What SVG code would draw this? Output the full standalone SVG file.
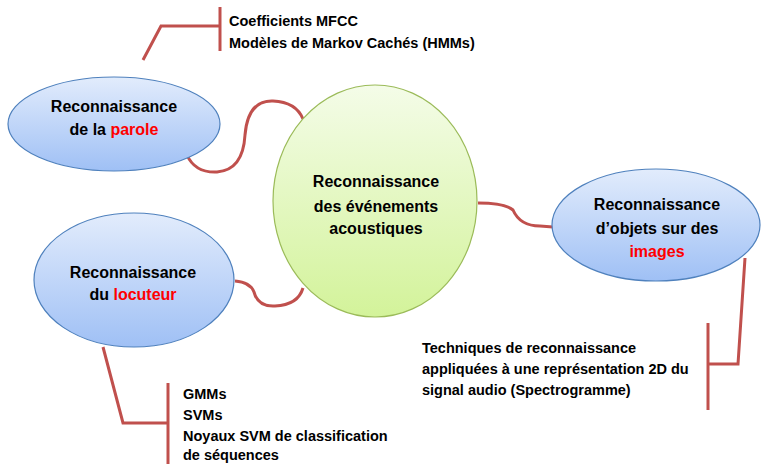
<svg xmlns="http://www.w3.org/2000/svg" width="762" height="464" viewBox="0 0 762 464">
<defs>
<linearGradient id="gBlue" x1="0" y1="0" x2="0" y2="1">
<stop offset="0" stop-color="#e2ecfc"/>
<stop offset="1" stop-color="#9fc0f5"/>
</linearGradient>
<linearGradient id="gGreen" x1="0" y1="0" x2="0" y2="1">
<stop offset="0" stop-color="#f4fce8"/>
<stop offset="1" stop-color="#d3f39a"/>
</linearGradient>
</defs>
<style>
.blue{fill:url(#gBlue);stroke:#4f81bd;stroke-width:1.2}
.green{fill:url(#gGreen);stroke:#9bbb59;stroke-width:1.2}
.lbl{font-family:"Liberation Sans",Arial,sans-serif;font-weight:bold;font-size:16px;fill:#000;text-anchor:middle}
.red{fill:#ff0000}
.note{font-family:"Liberation Sans",Arial,sans-serif;font-weight:bold;font-size:14.5px;fill:#000}
.conn path{fill:none;stroke:#c0504d;stroke-width:3;stroke-linejoin:miter}
</style>
<rect width="762" height="464" fill="#fff"/>
<g id="connectors" class="conn">
<path d="M143,60 L161,26 L220,26"/>
<path d="M220,7 L220,51"/>
<path d="M187,155 Q195,173 217,172 Q243,170 245,135 Q248,100 273,101 Q296,102 303,119"/>
<path d="M235,281 Q250,282 254,292 Q258,307 275,306 Q298,305 303,288"/>
<path d="M478,203 Q505,203 513,210 Q520,226 540,226 L553,227"/>
<path d="M745,258 L738,364 L708,364"/>
<path d="M708,323 L708,410"/>
<path d="M103,347 L123,423 L168,423"/>
<path d="M168,383 L168,464"/>
</g>
<g id="node-parole">
<ellipse class="blue" cx="114" cy="124" rx="106" ry="47"/>
<text class="lbl" x="114" y="112">Reconnaissance</text>
<text class="lbl" x="114" y="135">de la <tspan class="red">parole</tspan></text>
</g>
<g id="node-centre">
<ellipse class="green" cx="375" cy="201" rx="102" ry="116"/>
<text class="lbl" x="376" y="187">Reconnaissance</text>
<text class="lbl" x="376" y="212">des événements</text>
<text class="lbl" x="376" y="234">acoustiques</text>
</g>
<g id="node-locuteur">
<ellipse class="blue" cx="134" cy="280" rx="100" ry="67"/>
<text class="lbl" x="133" y="278">Reconnaissance</text>
<text class="lbl" x="133" y="300">du <tspan class="red">locuteur</tspan></text>
</g>
<g id="node-images">
<ellipse class="blue" cx="656" cy="225" rx="104" ry="56"/>
<text class="lbl" x="657" y="210">Reconnaissance</text>
<text class="lbl" x="657" y="234">d’objets sur des</text>
<text class="lbl" x="657" y="257"><tspan class="red">images</tspan></text>
</g>
<g id="note-parole">
<text class="note" x="229" y="26">Coefficients MFCC</text>
<text class="note" x="229" y="48">Modèles de Markov Cachés (HMMs)</text>
</g>
<g id="note-images">
<text class="note" x="422" y="353">Techniques de reconnaissance</text>
<text class="note" x="422" y="374">appliquées à une représentation 2D du</text>
<text class="note" x="422" y="395">signal audio (Spectrogramme)</text>
</g>
<g id="note-locuteur">
<text class="note" x="183" y="399">GMMs</text>
<text class="note" x="183" y="420">SVMs</text>
<text class="note" x="183" y="441">Noyaux SVM de classification</text>
<text class="note" x="183" y="460">de séquences</text>
</g>
</svg>
